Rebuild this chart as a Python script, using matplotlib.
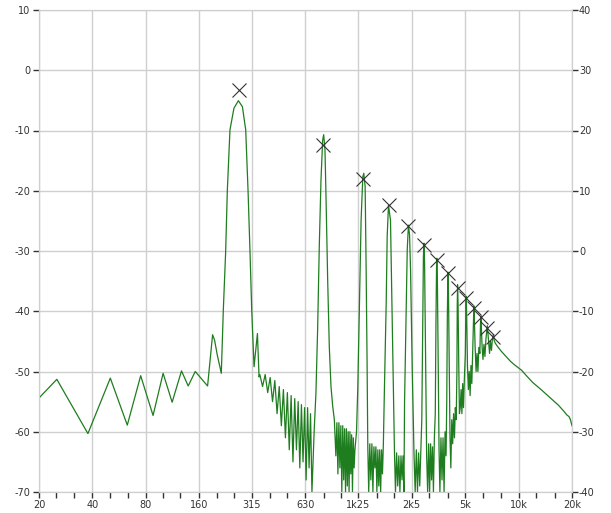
import matplotlib
matplotlib.use("Agg")
import matplotlib.pyplot as plt
from matplotlib.ticker import FixedLocator, NullFormatter

plt.rcParams['axes.unicode_minus'] = False

# spectrum trace (Hz, dB)
freq_hz = [
    20, 25.2, 37.7, 50.4, 62.8, 74.7, 87.7, 99.9, 112.3, 126.8, 138.3, 151.5,
    177.8, 189.7, 194.7, 201.7, 212.4,
    218, 224.6, 229.7, 237.6, 250.2, 265, 279.2, 291.4, 300.3, 308.2, 315,
    324.7, 339.2, 346.4,
    350, 362.5, 375, 387.5, 400, 412.5, 425, 437.5, 450, 462.5, 475, 487.5,
    500, 512.5, 525, 537.5, 550, 562.5, 575, 587.5, 600, 612.5, 625, 637.5,
    650, 662.5, 675, 687.5,
    708, 724, 740, 756, 773, 790, 800.6, 814, 825, 843, 861, 880, 900, 919,
    937.5, 950, 962.5, 975, 987.5, 1000, 1012.5, 1025, 1037.5, 1050, 1062.5,
    1075, 1087.5, 1100, 1112.5, 1125, 1137.5, 1150, 1162.5, 1175, 1187.5,
    1200, 1225,
    1246, 1272, 1300, 1329, 1346, 1370, 1388, 1405, 1418,
    1435, 1455, 1475, 1495, 1515, 1535, 1555, 1575, 1595, 1615, 1635, 1655,
    1675, 1695, 1715, 1735,
    1760, 1800, 1823, 1854, 1903, 1938, 1980, 2004,
    2030, 2060, 2090, 2120, 2150, 2180, 2210, 2240, 2265,
    2283, 2334, 2364, 2400, 2436, 2468, 2523, 2580,
    2620, 2660, 2700, 2740, 2780, 2820, 2855,
    2890, 2915, 2937, 2960, 3000, 3040,
    3080, 3120, 3160, 3200, 3240, 3280, 3320, 3360, 3400,
    3430, 3455, 3471, 3495, 3530, 3570,
    3610, 3660, 3710, 3760, 3810, 3860, 3910, 3945,
    3975, 4005, 4035, 4075, 4115,
    4160, 4210, 4260, 4310, 4360, 4410, 4460, 4500,
    4520, 4539, 4570, 4610, 4650,
    4700, 4750, 4800, 4850, 4900, 4960, 5020,
    5050, 5073, 5110, 5160,
    5220, 5280, 5340, 5400, 5460, 5530,
    5580, 5607, 5650, 5700,
    5770, 5840, 5910, 5980, 6060,
    6110, 6141, 6180, 6240,
    6310, 6390, 6470, 6560,
    6640, 6675, 6720, 6790,
    6870, 6950, 7040, 7120,
    7209, 7290, 7400, 7600, 8030, 8500, 9000, 9500, 10414, 11000, 12000,
    13512, 15000, 16786, 18000, 18700, 19260, 19600, 20000,
]
level_db = [
    -54.4, -51.3, -60.3, -51.1, -58.9, -50.7, -57.3, -50.3, -55.1, -49.9, -52.4, -50.0,
    -52.4, -43.9, -44.8, -47.3, -50.3,
    -39.8, -30.3, -19.9, -9.9, -6.3, -5.05, -6.05, -9.9, -19.9, -30.3, -39.8,
    -49.2, -43.7, -50.9,
    -50.5, -52.5, -50.5, -53.5, -51, -55, -51.5, -57, -52.5, -59, -53, -61,
    -53.5, -63, -54, -65, -54.5, -63, -55, -66, -55.5, -65, -56, -68,
    -56, -66, -57, -70,
    -59.7, -53.6, -43.1, -29.3, -18.2, -11.6, -10.7, -13.2, -21.0, -34.8, -45.9, -52.5, -55.8, -58.0,
    -64, -58.5, -67, -58.5, -66, -59, -70, -59, -68, -59.5, -70,
    -59.5, -69, -60, -70, -60, -67, -60.5, -70, -61, -66,
    -63, -60,
    -52.5, -38.6, -24.9, -17.7, -17.1, -19.3, -33.2, -48.6, -62.5,
    -70, -62, -68, -62, -70, -62.5, -66, -62.5, -70, -63, -69, -63,
    -70, -63, -67, -62,
    -52.5, -38.6, -27.6, -22.4, -24.9, -38.6, -55.2, -63.5,
    -70, -63.5, -69, -64, -70, -64, -68, -64, -70,
    -55.2, -38.6, -29.8, -25.7, -27.3, -33.2, -49.8, -63.5,
    -70, -63, -70, -63.5, -69, -63, -58,
    -42, -31, -28.7, -32, -48, -64,
    -70, -62, -70, -62, -68, -62.5, -70, -61, -57,
    -42, -33, -31.2, -35, -49, -63,
    -70, -61, -68, -61, -70, -60, -64, -55,
    -41, -33.5, -37, -50, -61,
    -66, -58, -62, -57, -61, -56, -58, -50,
    -39, -35.6, -39, -49, -57,
    -56, -53, -57, -52, -56, -51, -47,
    -40, -37.5, -41, -49,
    -53, -50, -54, -49, -52, -46,
    -41, -39.1, -42, -46,
    -50, -47, -50, -46, -47,
    -42, -40.8, -43, -46,
    -48, -45.5, -47.5, -44.5,
    -43, -42.4, -43.5, -45,
    -47, -45, -46.5, -44.8,
    -43.9, -44.8, -45.3, -45.8, -46.7, -47.5, -48.3, -48.9, -49.8, -50.6, -51.8,
    -53.1, -54.3, -55.6, -56.6, -57.2, -57.5, -58.0, -59.0,
]

# harmonic markers
peak_hz = [266, 797, 1330, 1855, 2390, 2937, 3471, 4005, 4539, 5073, 5607, 6141, 6675, 7209]
peak_db = [-3.3, -12.4, -18.0, -22.4, -25.9, -29.0, -31.5, -33.7, -36.1, -37.8,
           -39.5, -41.0, -42.8, -44.3]

x_major = [20, 40, 80, 160, 315, 630, 1250, 2500, 5000, 10000, 20000]
x_labels = ['20', '40', '80', '160', '315', '630', '1k25', '2k5', '5k', '10k', '20k']
x_minor = [25, 31.5, 50, 63, 100, 125, 200, 250, 400, 500, 800, 1000,
           1600, 2000, 3150, 4000, 6300, 8000, 12500, 16000]
left_ticks = [-70, -60, -50, -40, -30, -20, -10, 0, 10]
right_ticks = [-40, -30, -20, -10, 0, 10, 20, 30, 40]

grid_col = '#cfcfcf'
text_col = '#333333'

fig = plt.figure(figsize=(6.11, 5.13), dpi=100)
ax = fig.add_axes([39 / 611, 1 - 492 / 513, 533 / 611, 482 / 513])
ax.set_xscale('log')
ax.set_xlim(20, 20000)
ax.set_ylim(-70, 10)

ax.plot(freq_hz, level_db, color='#1e7d1e', lw=0.9, zorder=3)
ax.plot(peak_hz, peak_db, 'x', color='#333333', ms=10, mew=0.8, zorder=4)

ax.xaxis.set_major_locator(FixedLocator(x_major))
ax.xaxis.set_minor_locator(FixedLocator(x_minor))
ax.set_xticklabels(x_labels)
ax.xaxis.set_minor_formatter(NullFormatter())
ax.set_yticks(left_ticks)
ax.set_yticklabels([str(v) for v in left_ticks])

ax.grid(True, which='major', color=grid_col, lw=1, zorder=0)
for s in ax.spines.values():
    s.set_color(grid_col)
ax.tick_params(which='both', direction='out', length=4, width=1, color=text_col,
               labelsize=7, labelcolor=text_col, pad=2)

ax2 = ax.twinx()
ax2.set_ylim(-40, 40)
ax2.set_yticks(right_ticks)
ax2.set_yticklabels([str(v) for v in right_ticks])
ax2.tick_params(direction='out', length=4, width=1, color=text_col,
                labelsize=7, labelcolor=text_col, pad=1)
for s in ax2.spines.values():
    s.set_color(grid_col)

fig.savefig('out.png', dpi=100)
